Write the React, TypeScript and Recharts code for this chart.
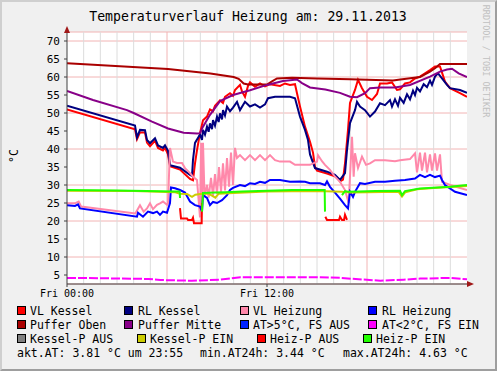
import React from "react";
import {
  LineChart,
  Line,
  XAxis,
  YAxis,
  CartesianGrid,
  ReferenceLine,
} from "recharts";

type Pt = [number, number | null];

// hours since Fri 00:00, temperature in °C
const vlKessel: Pt[] = [
  [0, 51.0], [4.08, 45.5], [4.2, 42.7], [4.38, 44.6], [4.68, 44.6], [4.8, 41.8],
  [4.98, 40.8], [5.28, 42.3], [5.46, 40.3], [5.76, 39.6], [5.88, 40.3], [6.06, 38.5],
  [6.18, 35.2], [6.78, 34.3], [7.38, 31.7], [7.56, 31.3], [7.68, 36.0], [7.8, 39.7],
  [7.98, 44.4], [8.16, 48.0], [8.4, 49.0], [8.58, 51.0], [8.76, 50.5], [8.88, 52.0],
  [9.18, 53.5], [9.36, 52.8], [9.48, 54.5], [9.78, 55.5], [9.96, 54.8], [10.08, 56.4],
  [10.38, 57.8], [10.5, 56.0], [10.68, 54.5], [10.86, 57.5], [10.98, 58.5], [11.28, 57.3],
  [11.58, 58.2], [11.88, 57.4], [12.18, 58.0], [12.78, 57.5], [13.08, 58.2], [13.38, 57.8],
  [13.68, 58.0], [13.8, 55.5], [13.98, 51.8], [14.28, 46.2], [14.58, 42.0], [14.76, 39.0],
  [14.88, 35.0], [15.0, 34.0], [15.6, 33.2], [16.2, 32.2], [16.38, 31.0], [16.56, 31.5],
  [16.68, 36.0], [16.86, 45.3], [16.98, 52.8], [17.28, 56.4], [17.46, 59.2], [17.7, 56.9],
  [18.0, 54.5], [18.3, 53.6], [18.6, 55.3], [18.78, 58.2], [19.2, 58.2], [19.5, 58.5],
  [19.8, 56.4], [19.98, 56.6], [20.28, 58.2], [20.58, 58.5], [20.88, 59.6], [21.18, 60.1],
  [21.48, 61.0], [21.78, 61.9], [22.08, 62.9], [22.38, 62.9], [22.68, 58.7], [22.98, 56.9],
  [23.58, 55.5], [24, 54.5],
];

const rlKessel: Pt[] = [
  [0, 52.0], [4.08, 46.5], [4.2, 43.2], [4.38, 45.3], [4.68, 45.2], [4.8, 42.5],
  [4.98, 41.6], [5.28, 43.0], [5.46, 41.0], [5.76, 40.3], [5.88, 41.0], [6.06, 39.5],
  [6.18, 35.5], [6.78, 34.8], [7.38, 32.8], [7.5, 32.5], [7.56, 37.0], [7.68, 41.7],
  [7.98, 44.0], [8.1, 42.5], [8.16, 45.3], [8.28, 44.0], [8.4, 46.2], [8.5, 44.8],
  [8.58, 47.1], [8.7, 45.5], [8.76, 48.0], [8.88, 46.5], [9.0, 49.0], [9.1, 47.5],
  [9.18, 49.9], [9.3, 48.2], [9.36, 50.8], [9.48, 49.3], [9.6, 51.8], [9.78, 50.5],
  [9.96, 51.5], [10.2, 53.1], [10.38, 50.8], [10.68, 53.1], [10.98, 51.8], [11.28, 52.4],
  [11.58, 51.5], [11.88, 52.4], [12.06, 54.1], [12.48, 54.5], [13.38, 54.5], [13.68, 54.1],
  [13.98, 49.0], [14.28, 45.3], [14.46, 42.5], [14.58, 38.5], [14.88, 34.7], [15.6, 33.7],
  [16.08, 32.8], [16.38, 31.4], [16.68, 33.3], [16.8, 39.7], [16.98, 47.2], [17.28, 50.8],
  [17.4, 53.1], [17.58, 51.8], [17.88, 50.8], [18.18, 49.0], [18.48, 50.4], [18.78, 52.7],
  [19.08, 52.2], [19.38, 53.6], [19.5, 51.8], [19.68, 53.8], [19.86, 52.0], [19.98, 54.2],
  [20.2, 52.8], [20.4, 55.2], [20.58, 53.8], [20.76, 56.2], [20.88, 55.0], [21.0, 57.0],
  [21.18, 56.0], [21.4, 58.0], [21.6, 57.2], [21.78, 59.0], [21.9, 57.8], [22.08, 60.1],
  [22.26, 61.0], [22.5, 59.6], [22.8, 57.8], [22.98, 56.9], [23.58, 56.4], [24, 55.6],
];

const vlHeizung: Pt[] = [
  [0, 24.9], [0.48, 24.9], [0.7, 25.4], [0.85, 24.0], [4.1, 22.1], [4.38, 24.4],
  [4.6, 22.6], [4.8, 23.5], [4.98, 24.9], [5.16, 23.3], [5.4, 24.5], [5.58, 24.9],
  [5.76, 25.4], [6.0, 24.5], [6.06, 25.0], [6.18, 40.3], [6.36, 36.5], [6.6, 36.1],
  [6.9, 36.1], [7.08, 34.7], [7.38, 33.3], [7.56, 32.3], [7.8, 31.4], [7.98, 21.0],
  [8.05, 41.7], [8.1, 24.0], [8.16, 41.7], [8.25, 27.0], [8.4, 30.0], [8.5, 26.5],
  [8.64, 32.0], [8.76, 27.0], [8.88, 33.0], [9.0, 27.5], [9.12, 35.0], [9.24, 28.0],
  [9.36, 36.0], [9.48, 28.5], [9.6, 37.5], [9.72, 29.5], [9.84, 39.0], [9.96, 30.0],
  [10.08, 40.3], [10.2, 37.5], [10.38, 38.3], [10.68, 36.9], [10.98, 38.3], [11.28, 36.9],
  [11.58, 38.3], [11.88, 36.9], [12.18, 38.3], [12.48, 36.9], [12.78, 36.5], [13.38, 36.5],
  [13.68, 35.6], [14.58, 35.6], [15.0, 36.5], [15.06, 38.3], [15.3, 36.6], [15.48, 35.6],
  [15.78, 34.2], [16.08, 32.3], [16.38, 30.9], [16.68, 28.6], [16.9, 25.0], [17.1, 43.4],
  [17.2, 32.3], [17.28, 38.8], [17.46, 34.7], [17.7, 37.9], [17.94, 35.6], [18.18, 36.0],
  [18.48, 36.9], [19.08, 36.9], [19.68, 36.6], [19.98, 36.9], [20.58, 37.2], [20.88, 38.8],
  [21.0, 33.5], [21.18, 39.0], [21.3, 34.0], [21.48, 39.0], [21.6, 33.5], [21.78, 38.5],
  [21.9, 34.0], [22.08, 38.8], [22.2, 34.0], [22.38, 38.5], [22.5, 30.9], [22.98, 30.0],
  [24, 28.6],
];

const rlHeizung: Pt[] = [
  [0, 24.4], [0.48, 24.2], [0.66, 24.6], [0.78, 23.5], [4.2, 21.2], [4.26, 22.3],
  [4.56, 21.2], [4.86, 22.6], [5.16, 22.2], [5.4, 22.6], [5.58, 21.7], [5.76, 22.6],
  [6.0, 22.3], [6.18, 25.0], [6.24, 29.3], [6.48, 29.1], [6.78, 28.6], [7.08, 27.9],
  [7.38, 25.4], [7.68, 24.4], [7.98, 24.0], [8.1, 22.6], [8.16, 27.2], [8.4, 26.4],
  [8.58, 24.4], [8.76, 25.3], [9.0, 25.0], [9.3, 25.8], [9.6, 27.2], [9.78, 28.6],
  [9.96, 29.2], [10.38, 30.0], [10.68, 29.7], [10.98, 30.5], [11.28, 30.3], [11.58, 30.9],
  [11.88, 30.6], [12.18, 31.4], [12.78, 31.4], [13.38, 30.9], [13.98, 31.0], [14.28, 30.9],
  [14.58, 30.5], [15.18, 30.5], [15.48, 30.0], [15.6, 31.0], [15.78, 29.5], [16.08, 27.9],
  [16.38, 26.2], [16.68, 24.4], [16.86, 23.5], [16.98, 28.1], [17.16, 26.7], [17.28, 28.1],
  [17.58, 30.5], [17.88, 30.3], [18.48, 30.9], [19.08, 30.9], [19.68, 31.2], [20.28, 31.4],
  [20.88, 31.8], [21.18, 32.8], [21.48, 32.2], [21.78, 32.8], [22.08, 32.2], [22.38, 32.6],
  [22.5, 31.4], [22.68, 30.0], [23.28, 28.1], [24, 27.2],
];

const pufferOben: Pt[] = [
  [0, 63.8], [6.06, 62.2], [8.6, 61.0], [10.0, 60.0], [10.3, 59.5], [10.6, 58.2],
  [10.86, 57.9], [12.0, 57.9], [12.3, 58.8], [12.6, 59.6], [13.5, 59.8], [15.0, 59.6],
  [17.0, 59.4], [19.56, 59.0], [20.0, 59.3], [21.18, 60.0], [21.78, 61.5], [22.1, 62.5],
  [22.38, 63.6], [24, 63.6],
];

const pufferMitte: Pt[] = [
  [0, 56.1], [1.56, 53.6], [3.6, 50.8], [4.0, 50.0], [5.1, 47.6], [6.06, 45.7],
  [6.78, 44.8], [7.0, 44.5], [7.8, 44.3], [7.98, 44.4], [8.16, 46.2], [8.58, 49.5],
  [9.18, 53.3], [9.96, 55.0], [10.98, 56.3], [12.0, 57.8], [12.96, 58.9], [13.8, 59.3],
  [14.1, 58.3], [14.58, 57.1], [15.5, 56.5], [16.38, 55.6], [16.98, 54.5], [17.4, 54.4],
  [17.88, 55.5], [18.18, 56.9], [18.78, 57.1], [19.68, 57.1], [20.58, 57.8], [21.78, 60.1],
  [22.38, 61.5], [22.8, 62.1], [23.1, 62.3], [23.5, 61.0], [24, 60.0],
];

const atUnter2: Pt[] = [
  [0, 4.2], [2.0, 4.1], [4.9, 3.9], [5.6, 3.6], [7.5, 3.4], [9.2, 3.7],
  [10.4, 4.35], [12.2, 4.4], [15.0, 4.4], [16.4, 4.2], [18.8, 3.4], [20.2, 3.7],
  [21.2, 4.0], [23.0, 4.2], [24, 3.8],
];

const kesselPEin: Pt[] = [
  [0, 28.4], [4.0, 28.3], [6.5, 28.0], [6.78, 27.6], [7.2, 27.5], [7.5, 26.7],
  [7.7, 27.3], [8.1, 27.6], [8.5, 27.6], [8.9, 26.5], [9.1, 27.6], [10.0, 27.8],
  [12.0, 28.2], [15.0, 28.3], [16.5, 28.1], [17.0, 27.9], [18.0, 28.0], [19.9, 28.1],
  [20.1, 26.8], [20.3, 28.0], [21.0, 28.8], [22.0, 29.2], [24, 29.7],
];

const heizPAus: Pt[] = [
  [6.78, 23.6], [6.84, 20.7], [7.2, 20.7], [7.26, 20.3], [7.5, 20.3], [7.56, 20.9],
  [7.62, 19.4], [8.08, 19.4], [8.1, 25.0], [8.2, null],
  [15.5, 21.2], [15.6, 20.3], [16.32, 20.3], [16.38, 21.2], [16.5, 20.3], [16.62, 20.3],
  [16.68, 21.7], [16.8, 20.3],
];

const heizPEin: Pt[] = [
  [0, 28.6], [3.0, 28.5], [6.5, 28.2], [6.76, 28.2], [6.78, 26.4], [7.0, null],
  [8.1, 22.6], [8.16, 27.8], [8.88, 27.9], [9.5, 28.0], [10.5, 28.2], [12.0, 28.4],
  [13.5, 28.6], [15.46, 28.6], [15.48, 22.6], [15.6, null],
  [16.5, 27.2], [16.68, 28.3], [16.86, 28.1], [17.5, 28.2], [18.5, 28.3], [19.98, 28.4],
  [20.1, 27.2], [20.28, 28.3], [21.18, 29.0], [22.98, 29.5], [24, 30.0],
];

const yTicks = [5, 10, 15, 20, 25, 30, 35, 40, 45, 50, 55, 60, 65, 70];
const xTicks = [0, 12];
const xTickLabels = ["Fri 00:00", "Fri 12:00"];
const minorHours = [1, 2, 3, 4, 5, 7, 8, 9, 10, 11, 13, 14, 15, 16, 17, 19, 20, 21, 22, 23];
const majorHours = [6, 12, 18];

const legendNames = [
  ["VL Kessel", "RL Kessel", "VL Heizung", "RL Heizung"],
  ["Puffer Oben", "Puffer Mitte", "AT>5°C, FS AUS", "AT<2°C, FS EIN"],
  ["Kessel-P AUS", "Kessel-P EIN", "Heiz-P AUS", "Heiz-P EIN"],
];
const legendColors = [
  ["#ff0000", "#000080", "#ff88aa", "#0000ff"],
  ["#aa0000", "#880088", "#0022ff", "#ff00ff"],
  ["#808080", "#cccc00", "#ff0000", "#22ff00"],
];
const summary = ["akt.AT: 3.81 °C um 23:55", "min.AT24h: 3.44 °C", "max.AT24h: 4.63 °C"];

const toPoints = (arr: Pt[]) => arr.map(([t, v]) => ({ t, v }));

const MONO = "'DejaVu Sans Mono', monospace";

const series = [
  { data: vlKessel, color: "#ff0000" },
  { data: rlKessel, color: "#000080" },
  { data: vlHeizung, color: "#ff88aa" },
  { data: rlHeizung, color: "#0000ff" },
  { data: pufferOben, color: "#aa0000" },
  { data: pufferMitte, color: "#880088" },
  { data: atUnter2, color: "#ff00ff", dash: "9 2" },
  { data: kesselPEin, color: "#cccc00" },
  { data: heizPAus, color: "#ff0000" },
  { data: heizPEin, color: "#22ff00" },
];

const rowBase = [315, 329, 343];
const boxX = [
  [17, 124, 240, 368],
  [17, 124, 240, 368],
  [17, 137, 257, 363],
];
const textX = [
  [30, 138, 253, 382],
  [30, 138, 253, 382],
  [30, 150, 270, 376],
];
const summaryX = [17, 200, 343];

export default function App() {
  return (
    <div
      style={{
        position: "absolute",
        left: 0,
        top: 0,
        width: 497,
        height: 371,
        background: "#f0f0f0",
        overflow: "hidden",
      }}
    >
      <div
        style={{
          position: "absolute",
          inset: 0,
          borderTop: "2px solid #cfcfcf",
          borderLeft: "2px solid #cfcfcf",
          borderRight: "2px solid #9e9e9e",
          borderBottom: "2px solid #9e9e9e",
          boxSizing: "border-box",
        }}
      />
      <div style={{ position: "absolute", left: 0, top: 0 }}>
        <LineChart width={497} height={371} margin={{ top: 32, right: 30, bottom: 57, left: 27 }}>
          <CartesianGrid vertical={false} stroke="#f2b4b4" fill="#ffffff" fillOpacity={1} />
          {minorHours.map((h) => (
            <ReferenceLine key={"m" + h} x={h} stroke="#dcdcdc" strokeWidth={1} />
          ))}
          {majorHours.map((h) => (
            <ReferenceLine key={"M" + h} x={h} stroke="#f2b4b4" strokeWidth={1} />
          ))}
          <XAxis
            type="number"
            dataKey="t"
            domain={[0, 24]}
            ticks={xTicks}
            allowDataOverflow
            tickFormatter={(v: number) => xTickLabels[xTicks.indexOf(v)] ?? ""}
            tick={{ fontSize: 10, fill: "#000", fontFamily: MONO }}
            tickSize={3}
            tickMargin={3}
            height={30}
            stroke="#404040"
          />
          <YAxis
            type="number"
            domain={[2.5, 72.5]}
            ticks={yTicks}
            allowDataOverflow
            width={40}
            tick={{ fontSize: 11, fill: "#000", fontFamily: MONO }}
            tickSize={3}
            tickMargin={4}
            stroke="#404040"
          />
          {series.map((s, i) => (
            <Line
              key={i}
              data={toPoints(s.data)}
              dataKey="v"
              type="linear"
              stroke={s.color}
              strokeWidth={2}
              strokeDasharray={s.dash}
              dot={false}
              activeDot={false}
              connectNulls={false}
              isAnimationActive={false}
            />
          ))}
        </LineChart>
      </div>
      <svg
        width={497}
        height={371}
        style={{ position: "absolute", left: 0, top: 0, pointerEvents: "none" }}
        fontFamily={MONO}
      >
        <polygon points="67,26 64,33 70,33" fill="#a01818" />
        <polygon points="474,284 467,281 467,287" fill="#a01818" />
        <text x={248} y={21} textAnchor="middle" fontSize={13.2} fill="#000">
          Temperaturverlauf Heizung am: 29.11.2013
        </text>
        <text transform="translate(18,156) rotate(-90)" textAnchor="middle" fontSize={11.5} fill="#000">
          °C
        </text>
        <text transform="translate(483,61) rotate(90)" textAnchor="middle" fontSize={8.5} fill="#c0c0c0">
          RRDTOOL / TOBI OETIKER
        </text>
        {legendNames.map((row, r) =>
          row.map((name, c) => (
            <g key={name}>
              <rect
                x={boxX[r][c] + 0.5}
                y={rowBase[r] - 8.5}
                width={8}
                height={8}
                fill={legendColors[r][c]}
                stroke="#000"
                strokeWidth={1}
              />
              <text x={textX[r][c]} y={rowBase[r]} fontSize={11.5} fill="#000">
                {name}
              </text>
            </g>
          ))
        )}
        {summary.map((s, i) => (
          <text key={s} x={summaryX[i]} y={357} fontSize={11.5} fill="#000">
            {s}
          </text>
        ))}
      </svg>
    </div>
  );
}
